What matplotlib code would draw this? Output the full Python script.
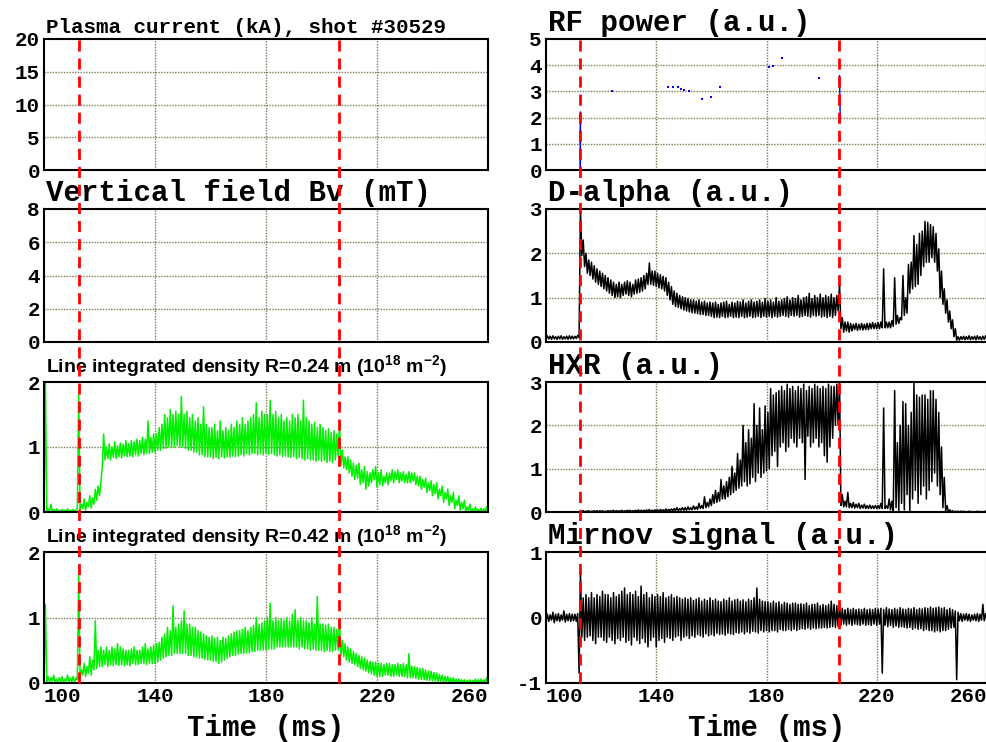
import numpy as np
import matplotlib.pyplot as plt

plt.rcParams['axes.unicode_minus'] = False

# sampling of the digitised traces (ms); each trace is given as the
# upper and lower edge of the noisy band read off every 1 ms
t_start = 100.0
t_step = 1.0

# Line integrated density R=0.24 m
dens24_hi = [2.0, 0.05, 0.12, 0.04, 0.05, 0.03, 0.04, 0.03, 0.05, 0.03,
             0.04, 0.03, 1.8, 0.12, 0.2, 0.15, 0.25, 0.22, 0.35, 0.4,
             0.45, 1.2, 1.0, 1.05, 1.0, 1.08, 1.02, 1.06, 1.04, 1.1,
             1.05, 1.1, 1.08, 1.12, 1.1, 1.15, 1.12, 1.4, 1.15, 1.2,
             1.2, 1.3, 1.35, 1.5, 1.45, 1.58, 1.5, 1.55, 1.5, 1.78,
             1.5, 1.55, 1.45, 1.5, 1.4, 1.45, 1.35, 1.62, 1.35, 1.3,
             1.3, 1.35, 1.25, 1.4, 1.25, 1.3, 1.25, 1.35, 1.3, 1.4,
             1.35, 1.45, 1.35, 1.4, 1.45, 1.5, 1.68, 1.45, 1.55, 1.5,
             1.5, 1.72, 1.5, 1.55, 1.45, 1.5, 1.4, 1.45, 1.4, 1.5,
             1.45, 1.5, 1.4, 1.72, 1.45, 1.4, 1.35, 1.38, 1.3, 1.35,
             1.3, 1.25, 1.28, 1.22, 1.25, 1.2, 1.4, 0.95, 0.85, 0.85,
             0.8, 0.75, 0.72, 0.75, 0.65, 0.7, 0.62, 0.6, 0.65, 0.7,
             0.6, 0.65, 0.55, 0.6, 0.6, 0.65, 0.62, 0.65, 0.6, 0.62,
             0.58, 0.62, 0.6, 0.6, 0.55, 0.55, 0.5, 0.52, 0.45, 0.48,
             0.42, 0.45, 0.35, 0.4, 0.3, 0.35, 0.25, 0.3, 0.18, 0.25,
             0.15, 0.18, 0.08, 0.12, 0.05, 0.08, 0.04, 0.06, 0.05, 0.08,
             0.06]
dens24_lo = [0.0, 0.0, 0.01, 0.0, 0.0, 0.0, 0.0, 0.0, 0.0, 0.0,
             0.0, 0.0, 0.05, 0.02, 0.05, 0.03, 0.08, 0.06, 0.12, 0.18,
             0.25, 0.7, 0.8, 0.82, 0.8, 0.84, 0.82, 0.85, 0.83, 0.86,
             0.85, 0.86, 0.85, 0.88, 0.86, 0.9, 0.88, 0.9, 0.9, 0.92,
             0.92, 0.95, 0.95, 0.98, 0.98, 1.0, 1.0, 1.0, 1.02, 1.0,
             1.0, 0.98, 0.95, 0.95, 0.92, 0.92, 0.88, 0.88, 0.85, 0.85,
             0.85, 0.82, 0.84, 0.82, 0.85, 0.83, 0.85, 0.84, 0.86, 0.85,
             0.86, 0.88, 0.86, 0.9, 0.88, 0.9, 0.9, 0.88, 0.9, 0.88,
             0.9, 0.88, 0.9, 0.88, 0.86, 0.88, 0.85, 0.86, 0.85, 0.84,
             0.85, 0.82, 0.84, 0.82, 0.8, 0.82, 0.8, 0.8, 0.78, 0.8,
             0.78, 0.8, 0.76, 0.78, 0.76, 0.8, 0.85, 0.72, 0.68, 0.65,
             0.6, 0.55, 0.5, 0.52, 0.42, 0.45, 0.35, 0.4, 0.45, 0.5,
             0.38, 0.42, 0.4, 0.45, 0.42, 0.48, 0.45, 0.5, 0.45, 0.48,
             0.45, 0.45, 0.45, 0.48, 0.42, 0.4, 0.35, 0.38, 0.3, 0.33,
             0.25, 0.28, 0.2, 0.25, 0.15, 0.2, 0.1, 0.15, 0.05, 0.1,
             0.02, 0.05, 0.0, 0.02, 0.0, 0.0, 0.0, 0.0, 0.0, 0.01,
             0.0]

# Line integrated density R=0.42 m
dens42_hi = [1.2, 0.1, 0.08, 0.12, 0.06, 0.08, 0.1, 0.06, 0.12, 0.08,
             0.1, 0.08, 1.65, 0.2, 0.3, 0.25, 0.4, 0.35, 0.95, 0.5,
             0.55, 0.5, 0.55, 0.5, 0.55, 0.52, 0.6, 0.55, 0.52, 0.5,
             0.5, 0.52, 0.55, 0.5, 0.5, 0.55, 0.6, 0.52, 0.55, 0.58,
             0.6, 0.62, 0.7, 0.75, 0.85, 0.8, 1.18, 0.85, 0.9, 0.95,
             1.1, 0.9, 0.9, 0.85, 0.85, 0.8, 0.78, 0.75, 0.72, 0.7,
             0.72, 0.68, 0.7, 0.65, 0.7, 0.68, 0.72, 0.75, 0.78, 0.8,
             0.8, 0.82, 0.85, 0.8, 0.85, 0.88, 1.0, 0.9, 0.92, 0.95,
             1.0, 1.22, 0.95, 1.0, 0.95, 0.98, 0.95, 1.0, 0.95, 1.05,
             1.12, 0.95, 1.0, 0.95, 0.95, 0.92, 1.0, 0.9, 1.32, 0.9,
             0.9, 0.88, 0.9, 0.85, 0.85, 0.82, 0.95, 0.65, 0.6, 0.55,
             0.52, 0.48, 0.45, 0.42, 0.4, 0.38, 0.35, 0.33, 0.32, 0.32,
             0.3, 0.3, 0.28, 0.3, 0.3, 0.28, 0.28, 0.3, 0.28, 0.3,
             0.28, 0.45, 0.26, 0.25, 0.24, 0.22, 0.22, 0.2, 0.18, 0.18,
             0.16, 0.15, 0.13, 0.12, 0.1, 0.1, 0.08, 0.08, 0.06, 0.06,
             0.05, 0.05, 0.04, 0.05, 0.04, 0.06, 0.05, 0.06, 0.05, 0.08,
             0.07]
dens42_lo = [0.0, 0.02, 0.01, 0.03, 0.0, 0.02, 0.02, 0.0, 0.03, 0.01,
             0.02, 0.0, 0.05, 0.08, 0.12, 0.1, 0.15, 0.12, 0.2, 0.22,
             0.25, 0.25, 0.28, 0.25, 0.28, 0.26, 0.28, 0.27, 0.28, 0.26,
             0.28, 0.26, 0.3, 0.28, 0.28, 0.3, 0.3, 0.28, 0.3, 0.3,
             0.3, 0.32, 0.35, 0.38, 0.4, 0.42, 0.42, 0.45, 0.45, 0.45,
             0.45, 0.45, 0.42, 0.42, 0.4, 0.4, 0.38, 0.38, 0.36, 0.35,
             0.35, 0.33, 0.33, 0.3, 0.32, 0.35, 0.38, 0.4, 0.42, 0.42,
             0.44, 0.45, 0.45, 0.46, 0.46, 0.48, 0.48, 0.5, 0.5, 0.5,
             0.5, 0.52, 0.52, 0.52, 0.55, 0.55, 0.55, 0.55, 0.55, 0.55,
             0.55, 0.55, 0.52, 0.55, 0.52, 0.52, 0.5, 0.52, 0.5, 0.5,
             0.5, 0.48, 0.5, 0.48, 0.48, 0.5, 0.5, 0.42, 0.4, 0.35,
             0.32, 0.3, 0.28, 0.25, 0.22, 0.2, 0.18, 0.16, 0.14, 0.12,
             0.1, 0.1, 0.1, 0.12, 0.12, 0.1, 0.1, 0.12, 0.1, 0.1,
             0.1, 0.08, 0.08, 0.08, 0.07, 0.06, 0.05, 0.05, 0.04, 0.04,
             0.03, 0.03, 0.02, 0.02, 0.01, 0.01, 0.0, 0.0, 0.0, 0.0,
             0.0, 0.0, 0.0, 0.0, 0.0, 0.0, 0.0, 0.0, 0.0, 0.01,
             0.0]

# D-alpha
dalpha_hi = [0.14, 0.13, 0.14, 0.12, 0.13, 0.14, 0.12, 0.13, 0.14, 0.13,
             0.13, 0.15, 3.0, 2.3, 2.0, 1.85, 1.8, 1.72, 1.65, 1.6,
             1.55, 1.5, 1.45, 1.4, 1.35, 1.3, 1.35, 1.3, 1.35, 1.38,
             1.35, 1.3, 1.4, 1.42, 1.45, 1.5, 1.55, 1.78, 1.6, 1.6,
             1.55, 1.52, 1.48, 1.45, 1.35, 1.25, 1.15, 1.1, 1.05, 1.02,
             1.0, 0.98, 0.95, 0.95, 0.92, 0.95, 0.9, 0.92, 0.88, 0.9,
             0.88, 0.9, 0.85, 0.88, 0.9, 0.92, 0.85, 0.9, 0.88, 0.92,
             0.9, 0.95, 0.88, 0.92, 0.95, 0.9, 0.92, 0.95, 0.9, 0.98,
             0.92, 0.95, 0.9, 1.0, 0.92, 0.95, 0.98, 1.02, 0.95, 1.0,
             0.98, 1.05, 0.95, 1.0, 1.02, 1.1, 0.98, 1.05, 1.0, 1.08,
             1.0, 1.05, 1.02, 1.08, 1.0, 1.05, 1.32, 0.55, 0.45, 0.45,
             0.42, 0.4, 0.42, 0.4, 0.42, 0.4, 0.42, 0.42, 0.44, 0.42,
             0.44, 0.45, 1.65, 0.45, 0.45, 0.48, 1.45, 0.6, 0.55, 1.5,
             1.0, 1.75, 1.8, 2.4, 2.2, 2.45, 2.5, 2.72, 2.7, 2.65,
             2.6, 2.45, 2.1, 1.6, 1.2, 0.95, 0.7, 0.5, 0.3, 0.12,
             0.12, 0.13, 0.12, 0.14, 0.12, 0.13, 0.14, 0.12, 0.13, 0.14,
             0.13]
dalpha_lo = [0.06, 0.07, 0.06, 0.07, 0.06, 0.07, 0.06, 0.07, 0.06, 0.07,
             0.07, 0.08, 0.1, 1.95, 1.7, 1.55, 1.5, 1.42, 1.35, 1.3,
             1.25, 1.2, 1.15, 1.1, 1.05, 1.0, 1.02, 1.0, 1.05, 1.08,
             1.05, 1.02, 1.08, 1.1, 1.12, 1.15, 1.2, 1.3, 1.3, 1.28,
             1.25, 1.22, 1.2, 1.15, 1.05, 0.95, 0.85, 0.8, 0.78, 0.75,
             0.72, 0.7, 0.68, 0.66, 0.65, 0.64, 0.62, 0.62, 0.6, 0.6,
             0.58, 0.55, 0.56, 0.55, 0.58, 0.55, 0.56, 0.58, 0.55, 0.56,
             0.55, 0.58, 0.55, 0.56, 0.58, 0.55, 0.56, 0.58, 0.55, 0.58,
             0.56, 0.58, 0.55, 0.58, 0.56, 0.58, 0.6, 0.58, 0.56, 0.6,
             0.58, 0.6, 0.56, 0.58, 0.6, 0.58, 0.56, 0.6, 0.58, 0.6,
             0.56, 0.58, 0.55, 0.58, 0.55, 0.6, 0.7, 0.3, 0.22, 0.25,
             0.22, 0.25, 0.28, 0.26, 0.28, 0.27, 0.28, 0.28, 0.3, 0.3,
             0.3, 0.3, 0.32, 0.32, 0.32, 0.32, 0.35, 0.4, 0.42, 0.5,
             0.6, 0.65, 1.1, 1.2, 1.25, 1.3, 1.5, 1.7, 1.8, 1.8,
             1.9, 1.8, 1.6, 1.0, 0.85, 0.65, 0.45, 0.3, 0.12, 0.04,
             0.04, 0.06, 0.05, 0.06, 0.05, 0.06, 0.05, 0.06, 0.05, 0.06,
             0.06]

# HXR
hxr_hi = [0, 0, 0, 0, 0, 0, 0, 0, 0, 0,
          0, 0, 0.01, 0.03, 0.02, 0.03, 0.02, 0.03, 0.03, 0.03,
          0.03, 0.02, 0.03, 0.03, 0.04, 0.03, 0.03, 0.04, 0.03, 0.04,
          0.04, 0.03, 0.04, 0.05, 0.04, 0.04, 0.05, 0.06, 0.04, 0.05,
          0.05, 0.06, 0.05, 0.07, 0.06, 0.07, 0.08, 0.1, 0.08, 0.1,
          0.1, 0.12, 0.1, 0.14, 0.12, 0.2, 0.15, 0.35, 0.22, 0.3,
          0.4, 0.5, 0.45, 0.75, 0.6, 0.7, 0.8, 1.05, 0.9, 1.35,
          1.2, 2.0, 1.6, 1.9, 1.7, 2.5, 2.0, 2.4, 1.9, 2.45,
          2.3, 2.85, 2.7, 2.75, 2.8, 2.9, 2.8, 2.95, 2.85, 2.9,
          2.8, 2.9, 2.85, 2.95, 2.8, 2.9, 2.85, 2.95, 2.9, 2.85,
          2.9, 2.85, 2.95, 2.9, 2.9, 2.95, 3.0, 0.4, 0.25, 0.45,
          0.2, 0.22, 0.18, 0.2, 0.16, 0.18, 0.15, 0.16, 0.14, 0.15,
          0.15, 0.2, 2.4, 0.14, 0.3, 0.25, 2.8, 1.6, 2.0, 2.55,
          2.5, 2.0, 2.3, 3.0, 2.7, 2.65, 2.7, 2.7, 2.6, 2.8,
          2.8, 2.6, 2.3, 1.5, 0.8, 0.15, 0.05, 0.03, 0.02, 0.02,
          0.02, 0.02, 0.01, 0.02, 0.01, 0.01, 0.02, 0.01, 0.01, 0.02,
          0.01]
hxr_lo = [0, 0, 0, 0, 0, 0, 0, 0, 0, 0,
          0, 0, 0, 0.01, 0.0, 0.01, 0.0, 0.01, 0.01, 0.0,
          0.01, 0.0, 0.01, 0.01, 0.01, 0.0, 0.01, 0.01, 0.0, 0.01,
          0.01, 0.01, 0.01, 0.01, 0.01, 0.01, 0.02, 0.01, 0.01, 0.02,
          0.02, 0.02, 0.02, 0.02, 0.02, 0.03, 0.03, 0.03, 0.03, 0.04,
          0.04, 0.04, 0.05, 0.05, 0.06, 0.06, 0.08, 0.08, 0.1, 0.12,
          0.15, 0.2, 0.22, 0.25, 0.3, 0.3, 0.35, 0.4, 0.45, 0.5,
          0.55, 0.6, 0.7, 0.6, 0.65, 0.8, 0.7, 0.9, 0.8, 0.9,
          0.95, 1.0, 1.3, 1.4, 1.05, 1.5, 1.6, 1.4, 1.5, 1.7,
          1.6, 1.5, 1.7, 1.6, 0.75, 1.75, 1.5, 1.6, 1.7, 1.5,
          1.6, 1.3, 1.15, 1.5, 1.7, 2.0, 2.0, 0.15, 0.12, 0.12,
          0.1, 0.1, 0.09, 0.1, 0.08, 0.09, 0.08, 0.08, 0.08, 0.08,
          0.08, 0.08, 0.08, 0.08, 0.08, 0.05, 0.0, 0.1, 0.0, 0.2,
          0.05, 0.4, 0.0, 0.3, 0.5, 0.2, 0.4, 0.6, 0.3, 0.5,
          0.7, 0.9, 0.6, 0.4, 0.1, 0.02, 0.0, 0.0, 0.0, 0.0,
          0, 0, 0, 0, 0, 0, 0, 0, 0, 0,
          0]

# Mirnov signal
mirnov_hi = [0.05, 0.04, 0.08, 0.05, 0.06, 0.04, 0.1, 0.05, 0.06, 0.05,
             0.05, 0.06, 0.7, 0.3, 0.35, 0.3, 0.38, 0.3, 0.35, 0.32,
             0.4, 0.35, 0.35, 0.3, 0.38, 0.32, 0.35, 0.4, 0.45, 0.35,
             0.38, 0.35, 0.4, 0.32, 0.48, 0.35, 0.38, 0.3, 0.35, 0.32,
             0.35, 0.32, 0.38, 0.3, 0.32, 0.35, 0.3, 0.32, 0.3, 0.28,
             0.3, 0.28, 0.3, 0.26, 0.28, 0.3, 0.25, 0.28, 0.26, 0.3,
             0.26, 0.28, 0.25, 0.24, 0.28, 0.26, 0.3, 0.25, 0.27, 0.28,
             0.25, 0.27, 0.24, 0.28, 0.26, 0.3, 0.45, 0.28, 0.25, 0.24,
             0.24, 0.22, 0.25, 0.22, 0.24, 0.2, 0.23, 0.22, 0.2, 0.22,
             0.22, 0.2, 0.21, 0.2, 0.22, 0.18, 0.2, 0.2, 0.22, 0.18,
             0.2, 0.18, 0.2, 0.25, 0.2, 0.18, 0.2, 0.14, 0.12, 0.14,
             0.12, 0.14, 0.12, 0.13, 0.12, 0.14, 0.12, 0.13, 0.12, 0.14,
             0.13, 0.14, 0.12, 0.15, 0.13, 0.12, 0.14, 0.12, 0.15, 0.13,
             0.12, 0.14, 0.13, 0.15, 0.12, 0.14, 0.13, 0.15, 0.14, 0.16,
             0.14, 0.15, 0.16, 0.14, 0.15, 0.12, 0.14, 0.12, 0.1, 0.08,
             0.06, 0.05, 0.06, 0.05, 0.04, 0.05, 0.06, 0.05, 0.2, 0.06,
             0.05]
mirnov_lo = [-0.05, -0.06, -0.04, -0.08, -0.05, -0.06, -0.04, -0.07, -0.05, -0.06,
             -0.05, -0.06, -0.85, -0.3, -0.35, -0.3, -0.28, -0.35, -0.4, -0.3,
             -0.3, -0.35, -0.38, -0.3, -0.35, -0.4, -0.32, -0.35, -0.3, -0.38,
             -0.35, -0.42, -0.3, -0.35, -0.4, -0.32, -0.38, -0.45, -0.35, -0.3,
             -0.45, -0.35, -0.32, -0.38, -0.3, -0.32, -0.35, -0.3, -0.28, -0.35,
             -0.3, -0.28, -0.32, -0.28, -0.3, -0.26, -0.28, -0.3, -0.25, -0.28,
             -0.26, -0.28, -0.24, -0.26, -0.25, -0.27, -0.24, -0.25, -0.26, -0.23,
             -0.24, -0.22, -0.25, -0.22, -0.24, -0.21, -0.22, -0.24, -0.2, -0.22,
             -0.2, -0.22, -0.2, -0.2, -0.22, -0.18, -0.2, -0.2, -0.18, -0.2,
             -0.18, -0.2, -0.18, -0.17, -0.18, -0.16, -0.18, -0.16, -0.17, -0.16,
             -0.16, -0.15, -0.16, -0.15, -0.14, -0.15, -0.14, -0.12, -0.1, -0.12,
             -0.1, -0.12, -0.1, -0.11, -0.12, -0.1, -0.12, -0.11, -0.12, -0.1,
             -0.12, -0.1, -0.85, -0.12, -0.14, -0.12, -0.15, -0.13, -0.15, -0.14,
             -0.15, -0.16, -0.15, -0.18, -0.16, -0.18, -0.17, -0.2, -0.18, -0.2,
             -0.2, -0.22, -0.2, -0.22, -0.2, -0.2, -0.18, -0.16, -0.15, -0.95,
             -0.05, -0.06, -0.04, -0.05, -0.06, -0.04, -0.05, -0.06, -0.04, -0.05,
             -0.04]

# RF power: scattered samples and the two switching edges
rf_t = [124.0, 144.2, 146.0, 147.8, 149.0, 150.2, 151.8, 156.6, 160.0, 163.3,
        181.0, 182.2, 185.8, 199.0]
rf_v = [3.0, 3.15, 3.18, 3.18, 3.08, 3.05, 3.03, 2.7, 2.77, 3.18,
        3.94, 3.98, 4.29, 3.52]
rf_on_t = [112.4, 112.45, 112.5]
rf_on_v = [0.0, 1.4, 2.2]
rf_off_t = [206.5, 206.6, 206.7, 206.8]
rf_off_v = [3.6, 2.9, 2.3, 1.85]

# start / end of discharge markers (ms)
t_marks = [112.5, 206.4]

xticks = [100, 140, 180, 220, 260]

mono = 'Liberation Mono'
sans = 'Liberation Sans'
green = '#00f000'
grid_col = '#7d7d5a'

fig = plt.figure(figsize=(9.87, 7.42), dpi=100)
W, H = 987.0, 742.0
col_x = [(44, 444), (546, 441)]
row_y = [(39, 131), (209, 133), (382, 130), (552, 131)]


def make_ax(col, row, ylim, yticks):
    x0, w = col_x[col]
    y0, h = row_y[row]
    ax = fig.add_axes([x0 / W, 1 - (y0 + h) / H, w / W, h / H])
    ax.set_xlim(100, 260)
    ax.set_ylim(*ylim)
    ax.set_xticks(xticks)
    ax.set_yticks(yticks)
    for s in ax.spines.values():
        s.set_linewidth(1.5)
    ax.tick_params(length=0, pad=3, labelsize=15)
    for lab in ax.get_yticklabels():
        lab.set_fontfamily(mono)
        lab.set_fontweight('bold')
    # dotted grid on interior ticks only
    for xg in xticks[1:-1]:
        ax.axvline(xg, color=grid_col, ls=(0, (1, 1)), lw=1, zorder=0)
    for yg in yticks[1:-1]:
        ax.axhline(yg, color=grid_col, ls=(0, (1, 1)), lw=1, zorder=0)
    if row == 3:
        ax.set_xticklabels([str(x) for x in xticks])
        labs = ax.get_xticklabels()
        for lab in labs:
            lab.set_fontfamily(mono)
            lab.set_fontweight('bold')
        labs[0].set_horizontalalignment('left')
        labs[-1].set_horizontalalignment('right')
        ax.set_xlabel('Time (ms)', fontfamily=mono, fontweight='bold',
                      fontsize=21, labelpad=6)
    else:
        ax.set_xticklabels([])
    return ax


def title(ax, text, size=21, family=mono):
    ax.text(0.005, 1.015, text, transform=ax.transAxes, ha='left',
            va='bottom', fontsize=size, fontfamily=family, fontweight='bold')


def band(ax, lo, hi, color, lw=1.1):
    # zig-zag between the lower and upper edge of the noise band
    t = t_start + t_step * np.arange(len(lo))
    x = np.column_stack([t, t + 0.5 * t_step]).ravel()
    y = np.column_stack([lo, hi]).ravel()
    ax.plot(x, y, color=color, lw=lw)


ax_ip = make_ax(0, 0, (0, 20), [0, 5, 10, 15, 20])
title(ax_ip, 'Plasma current (kA), shot #30529', size=15)

ax_rf = make_ax(1, 0, (0, 5), [0, 1, 2, 3, 4, 5])
title(ax_rf, 'RF power (a.u.)')
ax_rf.plot(rf_t, rf_v, ls='none', marker='s', ms=1.6, color='blue', mew=0)
ax_rf.plot(rf_on_t, rf_on_v, color='blue', lw=1.2)
ax_rf.plot(rf_off_t, rf_off_v, color='blue', lw=1.0)

ax_bv = make_ax(0, 1, (0, 8), [0, 2, 4, 6, 8])
title(ax_bv, 'Vertical field Bv (mT)')

ax_da = make_ax(1, 1, (0, 3), [0, 1, 2, 3])
title(ax_da, 'D-alpha (a.u.)')
band(ax_da, dalpha_lo, dalpha_hi, 'black')

ax_n1 = make_ax(0, 2, (0, 2), [0, 1, 2])
title(ax_n1, r'Line integrated density R=0.24 m (10$^{\mathregular{18}}$ m$^{\mathregular{-2}}$)',
      size=14, family=sans)
band(ax_n1, dens24_lo, dens24_hi, green)

ax_hx = make_ax(1, 2, (0, 3), [0, 1, 2, 3])
title(ax_hx, 'HXR (a.u.)')
band(ax_hx, hxr_lo, hxr_hi, 'black')

ax_n2 = make_ax(0, 3, (0, 2), [0, 1, 2])
title(ax_n2, r'Line integrated density R=0.42 m (10$^{\mathregular{18}}$ m$^{\mathregular{-2}}$)',
      size=14, family=sans)
band(ax_n2, dens42_lo, dens42_hi, green)

ax_mi = make_ax(1, 3, (-1, 1), [-1, 0, 1])
title(ax_mi, 'Mirnov signal (a.u.)')
band(ax_mi, mirnov_lo, mirnov_hi, 'black')

# red dashed markers spanning each column from top row to bottom row
span = (row_y[3][0] + row_y[3][1] - row_y[0][0]) / row_y[3][1]
for ax in (ax_n2, ax_mi):
    for tm in t_marks:
        ax.axvline(tm, ymin=0, ymax=span, color='red', lw=2,
                   ls=(0, (4, 2.5)), clip_on=False, zorder=10)

fig.savefig('out.png', dpi=100, facecolor='white')
